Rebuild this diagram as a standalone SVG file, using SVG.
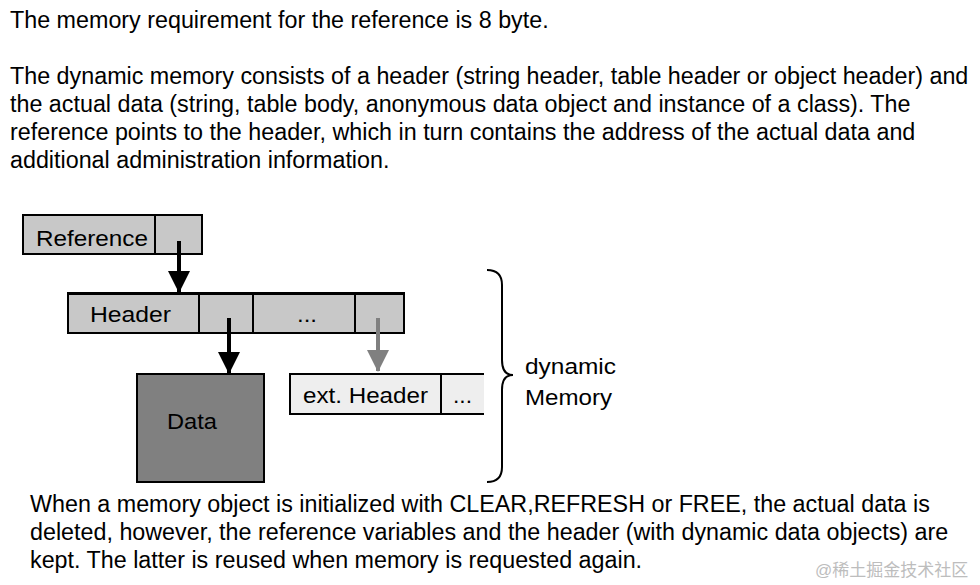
<svg xmlns="http://www.w3.org/2000/svg" width="980" height="585" viewBox="0 0 980 585">
<defs>
<style>
.t{font-family:"Liberation Sans",Arial,sans-serif;font-size:23.3px;fill:#000}
.l{font-family:"Liberation Sans",Arial,sans-serif;font-size:22px;fill:#000}
.box{stroke:#000;stroke-width:2}
.wm{font-family:"Liberation Sans","Noto Sans CJK SC",sans-serif;font-size:17px;fill:#bdbdbd}
</style>
<marker id="ab" markerUnits="userSpaceOnUse" markerWidth="22" markerHeight="22" viewBox="0 0 22 22" refX="21" refY="11" orient="auto"><path d="M0,0 L22,11 L0,22 Z" fill="#000"/></marker>
<marker id="ag" markerUnits="userSpaceOnUse" markerWidth="22" markerHeight="22" viewBox="0 0 22 22" refX="21" refY="11" orient="auto"><path d="M0,0 L22,11 L0,22 Z" fill="#808080"/></marker>
</defs>
<rect width="980" height="585" fill="#fff"/>
<g id="text-top">
<text class="t" x="10" y="28">The memory requirement for the reference is 8 byte.</text>
<text class="t" x="10" y="84">The dynamic memory consists of a header (string header, table header or object header) and</text>
<text class="t" x="10" y="112">the actual data (string, table body, anonymous data object and instance of a class). The</text>
<text class="t" x="10" y="140">reference points to the header, which in turn contains the address of the actual data and</text>
<text class="t" x="10" y="168">additional administration information.</text>
</g>
<g id="reference">
<rect class="box" x="23" y="215" width="179" height="39" fill="#c8c8c8"/>
<line class="box" x1="155" y1="215" x2="155" y2="254"/>
<text class="l" x="36" y="246" textLength="112" lengthAdjust="spacingAndGlyphs">Reference</text>
</g>
<g id="header">
<rect class="box" x="68" y="293" width="336" height="40" fill="#c8c8c8"/>
<line x1="67" y1="293.5" x2="405" y2="293.5" stroke="#000" stroke-width="3"/>
<line class="box" x1="199" y1="293" x2="199" y2="333"/>
<line class="box" x1="253" y1="293" x2="253" y2="333"/>
<line class="box" x1="355" y1="293" x2="355" y2="333"/>
<text class="l" x="90" y="322" textLength="81" lengthAdjust="spacingAndGlyphs">Header</text>
<text class="l" x="297" y="322" textLength="20" lengthAdjust="spacingAndGlyphs">...</text>
</g>
<g id="data">
<rect class="box" x="137" y="374" width="127" height="108" fill="#808080"/>
<text class="l" x="167" y="429" textLength="50" lengthAdjust="spacingAndGlyphs">Data</text>
</g>
<g id="ext-header">
<rect x="290" y="374" width="194" height="40" fill="#eeeeee"/>
<path d="M484,374 H290 V414 H484" fill="none" stroke="#000" stroke-width="2"/>
<line class="box" x1="441" y1="374" x2="441" y2="414"/>
<text class="l" x="303" y="403" textLength="125" lengthAdjust="spacingAndGlyphs">ext. Header</text>
<text class="l" x="453" y="403" textLength="19" lengthAdjust="spacingAndGlyphs">...</text>
</g>
<g id="connectors">
<line x1="179" y1="241" x2="179" y2="292" stroke="#000" stroke-width="4" marker-end="url(#ab)"/>
<line x1="229" y1="318" x2="229" y2="373" stroke="#000" stroke-width="4" marker-end="url(#ab)"/>
<line x1="378" y1="318" x2="378" y2="371" stroke="#808080" stroke-width="4" marker-end="url(#ag)"/>
</g>
<g id="brace">
<path d="M487,270 Q502,270 502,285 V360 Q502,375 513,375 Q502,375 502,390 V467 Q502,482 487,482" fill="none" stroke="#000" stroke-width="2"/>
<text class="l" x="525" y="374" textLength="91" lengthAdjust="spacingAndGlyphs">dynamic</text>
<text class="l" x="525" y="405" textLength="87" lengthAdjust="spacingAndGlyphs">Memory</text>
</g>
<g id="text-bottom">
<text class="t" x="30" y="512">When a memory object is initialized with CLEAR,REFRESH or FREE, the actual data is</text>
<text class="t" x="30" y="540">deleted, however, the reference variables and the header (with dynamic data objects) are</text>
<text class="t" x="30" y="568">kept. The latter is reused when memory is requested again.</text>
</g>
<text class="wm" x="815" y="576">@稀土掘金技术社区</text>
</svg>
